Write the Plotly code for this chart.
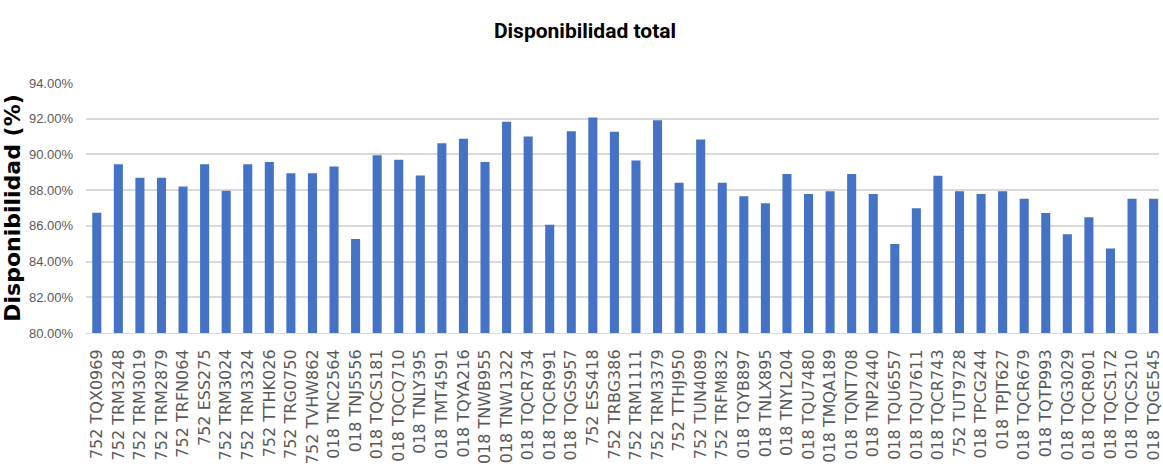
import plotly.graph_objects as go

# Equipment identifiers (x categories)
equipos = [
    "752 TQX0969", "752 TRM3248", "752 TRM3019", "752 TRM2879", "752 TRFN064",
    "752 ESS275", "752 TRM3024", "752 TRM3324", "752 TTHK026", "752 TRG0750",
    "752 TVHW862", "018 TNC2564", "018 TNJ5556", "018 TQCS181", "018 TQCQ710",
    "018 TNLY395", "018 TMT4591", "018 TQYA216", "018 TNWB955", "018 TNW1322",
    "018 TQCR734", "018 TQCR991", "018 TQGS957", "752 ESS418", "752 TRBG386",
    "752 TRM1111", "752 TRM3379", "752 TTHJ950", "752 TUN4089", "752 TRFM832",
    "018 TQYB897", "018 TNLX895", "018 TNYL204", "018 TQU7480", "018 TMQA189",
    "018 TQNT708", "018 TNP2440", "018 TQU6557", "018 TQU7611", "018 TQCR743",
    "752 TUT9728", "018 TPCG244", "018 TPJT627", "018 TQCR679", "018 TQTP993",
    "018 TQG3029", "018 TQCR901", "018 TQCS172", "018 TQCS210", "018 TQGE545",
]

# Total availability per unit, in percent
disponibilidad = [
    86.74, 89.45, 88.70, 88.70, 88.20, 89.45, 87.96, 89.45, 89.57, 88.95,
    88.95, 89.32, 85.26, 89.95, 89.70, 88.82, 90.63, 90.88, 89.57, 91.83,
    91.01, 86.06, 91.30, 92.07, 91.27, 89.66, 91.92, 88.41, 90.84, 88.41,
    87.66, 87.26, 88.90, 87.79, 87.94, 88.90, 87.79, 84.99, 86.99, 88.80,
    87.94, 87.79, 87.94, 87.52, 86.72, 85.53, 86.48, 84.73, 87.52, 87.52,
]

y_ticks = [80, 82, 84, 86, 88, 90, 92, 94]
y_tick_text = ["80.00%", "82.00%", "84.00%", "86.00%", "88.00%", "90.00%", "92.00%", "94.00%"]

fig = go.Figure(
    go.Bar(
        x=equipos,
        y=disponibilidad,
        base=0,
        marker=dict(color="#4472C4", line=dict(width=0)),
    )
)

fig.update_layout(
    width=1163,
    height=475,
    margin=dict(l=86, r=0, t=83, b=142),
    paper_bgcolor="white",
    plot_bgcolor="white",
    bargap=0.58,
    showlegend=False,
    title=dict(
        text="<b>Disponibilidad total</b>",
        x=0.503,
        xanchor="center",
        y=0.935,
        yanchor="middle",
        font=dict(family="Liberation Sans Narrow, Arial Narrow, Roboto", size=21, color="#000000"),
    ),
)

fig.update_xaxes(
    type="category",
    range=[-0.5, 49.25],
    tickangle=-90,
    tickfont=dict(family="DejaVu Sans", size=16, color="#595959"),
    showgrid=False,
    showline=True,
    linecolor="#D9D9D9",
    linewidth=1,
    ticks="",
    ticklabelstandoff=9,
)

fig.update_yaxes(
    range=[80, 94],
    tickvals=y_ticks,
    ticktext=y_tick_text,
    tickfont=dict(family="Liberation Sans Narrow, Arial", size=13, color="#595959"),
    showgrid=True,
    gridcolor="#D9D9D9",
    gridwidth=1.5,
    zeroline=False,
    ticks="",
    ticklabelstandoff=12,
    title=dict(
        text="<b>Disponibilidad (%)</b>",
        font=dict(family="DejaVu Sans", size=22, color="#000000"),
        standoff=4,
    ),
)

fig.write_html("out.html")
